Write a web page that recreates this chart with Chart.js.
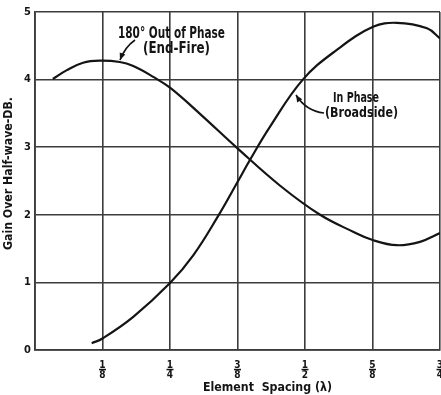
<!DOCTYPE html>
<html>
<head>
<meta charset="utf-8">
<script src="https://cdn.jsdelivr.net/npm/chart.js@4.4.1/dist/chart.umd.min.js"></script>
<style>
  html, body { margin: 0; padding: 0; background: #fff; }
  #wrap { width: 441px; height: 395px; position: relative; }
</style>
</head>
<body>
<div id="wrap"><canvas id="chart"></canvas></div>
<script>
// Gain over half-wave dipole vs element spacing, two-element array

const endFireSpacing = [0.033, 0.059, 0.089, 0.12, 0.157, 0.182, 0.219, 0.25, 0.306, 0.374, 0.454, 0.528, 0.589, 0.624, 0.67, 0.713, 0.75];
const endFireGain = [4.01, 4.14, 4.25, 4.28, 4.26, 4.20, 4.04, 3.88, 3.49, 2.99, 2.43, 2.00, 1.75, 1.63, 1.55, 1.60, 1.73];

const broadsideSpacing = [0.105, 0.125, 0.182, 0.25, 0.293, 0.339, 0.374, 0.398, 0.435, 0.496, 0.559, 0.626, 0.67, 0.726, 0.75];
const broadsideGain = [0.10, 0.17, 0.49, 0.99, 1.40, 1.98, 2.47, 2.81, 3.30, 4.00, 4.44, 4.78, 4.84, 4.76, 4.61];

const xTickValues = [0.125, 0.25, 0.375, 0.5, 0.625, 0.75];
const xTickLabels = [['1', '8'], ['1', '4'], ['3', '8'], ['1', '2'], ['5', '8'], ['3', '4']];

const INK = '#141414';
const GRID = '#3c3c3c';
const FONT = '"DejaVu Sans Condensed", "DejaVu Sans", sans-serif';

// squeeze/stretch a label to the width it has in the original lettering
function fitText(ctx, str, x, y, size, width, weight) {
  ctx.save();
  ctx.font = `${weight || 'normal'} ${size}px ${FONT}`;
  const w = ctx.measureText(str).width;
  ctx.translate(x, y);
  ctx.scale(width / w, 1);
  ctx.textAlign = 'left';
  ctx.textBaseline = 'alphabetic';
  ctx.fillText(str, 0, 0);
  ctx.restore();
}

function arrow(ctx, x0, y0, cx, cy, x1, y1) {
  ctx.beginPath();
  ctx.moveTo(x0, y0);
  ctx.quadraticCurveTo(cx, cy, x1, y1);
  ctx.stroke();
  const a = Math.atan2(y1 - cy, x1 - cx);
  const len = 7, half = 3;
  ctx.beginPath();
  ctx.moveTo(x1, y1);
  ctx.lineTo(x1 - len * Math.cos(a) + half * Math.sin(a), y1 - len * Math.sin(a) - half * Math.cos(a));
  ctx.lineTo(x1 - len * Math.cos(a) - half * Math.sin(a), y1 - len * Math.sin(a) + half * Math.cos(a));
  ctx.closePath();
  ctx.fill();
}

const annotations = {
  id: 'annotations',
  afterDraw(chart) {
    const ctx = chart.ctx;
    const xs = chart.scales.x;
    ctx.save();
    ctx.fillStyle = INK;
    ctx.strokeStyle = INK;
    ctx.lineWidth = 1.6;

    // fraction tick labels
    xTickValues.forEach((v, i) => {
      const px = xs.getPixelForValue(v);
      ctx.font = `bold 10px ${FONT}`;
      ctx.textAlign = 'center';
      ctx.textBaseline = 'alphabetic';
      ctx.fillText(xTickLabels[i][0], px, 368);
      ctx.fillText(xTickLabels[i][1], px, 378);
      ctx.fillRect(px - 3.5, 368.8, 7, 1.5);
    });

    // axis titles
    fitText(ctx, 'Element  Spacing (λ)', 203, 391, 13, 129, 'bold');
    ctx.save();
    ctx.translate(12, 250);
    ctx.rotate(-Math.PI / 2);
    fitText(ctx, 'Gain Over Half-wave-DB.', 0, 0, 13, 153, 'bold');
    ctx.restore();

    // curve labels
    fitText(ctx, '180° Out of Phase', 118, 38, 15, 107, 'bold');
    fitText(ctx, '(End-Fire)', 143, 53, 15, 67, 'bold');
    arrow(ctx, 135, 40, 125, 47, 120, 60);

    fitText(ctx, 'In Phase', 333, 102, 14, 46, 'bold');
    fitText(ctx, '(Broadside)', 325, 117, 14, 73, 'bold');
    arrow(ctx, 324, 113, 306, 111, 296, 95);

    ctx.restore();
  }
};

const ctx = document.getElementById('chart');

new Chart(ctx, {
  type: 'line',
  data: {
    datasets: [
      {
        label: '180° Out of Phase (End-Fire)',
        data: endFireSpacing.map((x, i) => ({ x, y: endFireGain[i] })),
        borderColor: INK,
        borderWidth: 2.2,
        pointRadius: 0,
        fill: false,
        tension: 0.4,
      },
      {
        label: 'In Phase (Broadside)',
        data: broadsideSpacing.map((x, i) => ({ x, y: broadsideGain[i] })),
        borderColor: INK,
        borderWidth: 2.2,
        pointRadius: 0,
        fill: false,
        tension: 0.4,
      },
    ],
  },
  options: {
    responsive: true,
    maintainAspectRatio: false,
    animation: false,
    layout: { padding: { left: 0, top: 12, right: 1, bottom: 45 } },
    plugins: {
      legend: { display: false },
      tooltip: { enabled: false },
    },
    scales: {
      x: {
        type: 'linear',
        min: 0,
        max: 0.75,
        ticks: { display: false, stepSize: 0.125 },
        grid: { color: GRID, lineWidth: 1.6, drawTicks: false },
        border: { color: GRID, width: 1.8 },
        afterFit: s => { s.height = 0; },
      },
      y: {
        min: 0,
        max: 5,
        ticks: {
          stepSize: 1,
          color: INK,
          padding: 4,
          font: { family: FONT, size: 11, weight: 'bold' },
        },
        grid: { color: GRID, lineWidth: 1.6, drawTicks: false },
        border: { color: GRID, width: 1.8 },
        afterFit: s => { s.width = 35; },
      },
    },
  },
  plugins: [annotations],
});
</script>
</body>
</html>
